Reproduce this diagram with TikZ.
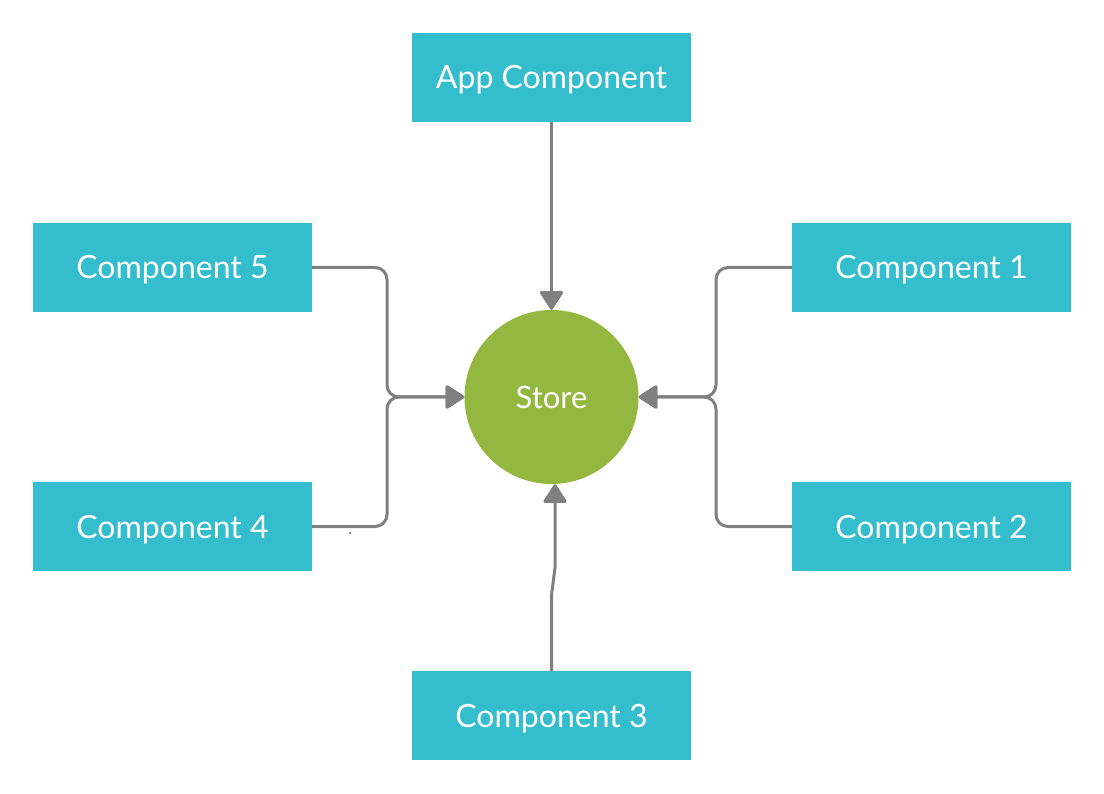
\documentclass[tikz,border=0pt]{standalone}
\usepackage{fontspec}
\setmainfont{Lato}
\usetikzlibrary{arrows.meta}
\definecolor{boxteal}{HTML}{33BDCD}
\definecolor{storegreen}{HTML}{93B73F}
\definecolor{linegray}{HTML}{808080}
\tikzset{
  compbox/.style={fill=boxteal, draw=none, minimum width=279pt, minimum height=89pt, inner sep=0pt, text=white, font=\fontsize{32}{36}\selectfont, text height=23pt, text depth=0pt},
  storenode/.style={circle, fill=storegreen, draw=none, minimum size=174pt, inner sep=0pt, text=white, font=\fontsize{31}{35}\selectfont, text height=22.3pt, text depth=0pt},
  conn/.style={draw=linegray, line width=3pt, rounded corners=12pt, -{Triangle[round,length=20pt,width=25pt]}}
}
\begin{document}
\begin{tikzpicture}[x=1pt,y=-1pt]
\useasboundingbox (0,0) rectangle (1104,794);
\node[compbox] (app) at (551.5,77.5) {App Component};
\node[compbox] (c5) at (172.5,267.5) {Component 5};
\node[compbox] (c4) at (172.5,526.5) {Component 4};
\node[compbox] (c1) at (931.5,267.5) {Component 1};
\node[compbox] (c2) at (931.5,526.5) {Component 2};
\node[compbox] (c3) at (551.5,715.5) {Component 3};
\node[storenode] (store) at (551.5,397) {Store};
\coordinate (jl) at (387,397);
\coordinate (jr) at (716,397);
\coordinate (k1) at (551.5,595);
\coordinate (k2) at (555,568);
\draw[conn] (c5.east) -| (jl) -- (store.west);
\draw[conn] (c4.east) -| (jl) -- (store.west);
\draw[conn] (c1.west) -| (jr) -- (store.east);
\draw[conn] (c2.west) -| (jr) -- (store.east);
\draw[conn] (app.south) -- (store.north);
\draw[conn, rounded corners=0pt] (c3.north) -- (k1) -- (k2) -- (store.south -| k2);
\fill[linegray] (350,533) circle (1.3pt);
\end{tikzpicture}
\end{document}
